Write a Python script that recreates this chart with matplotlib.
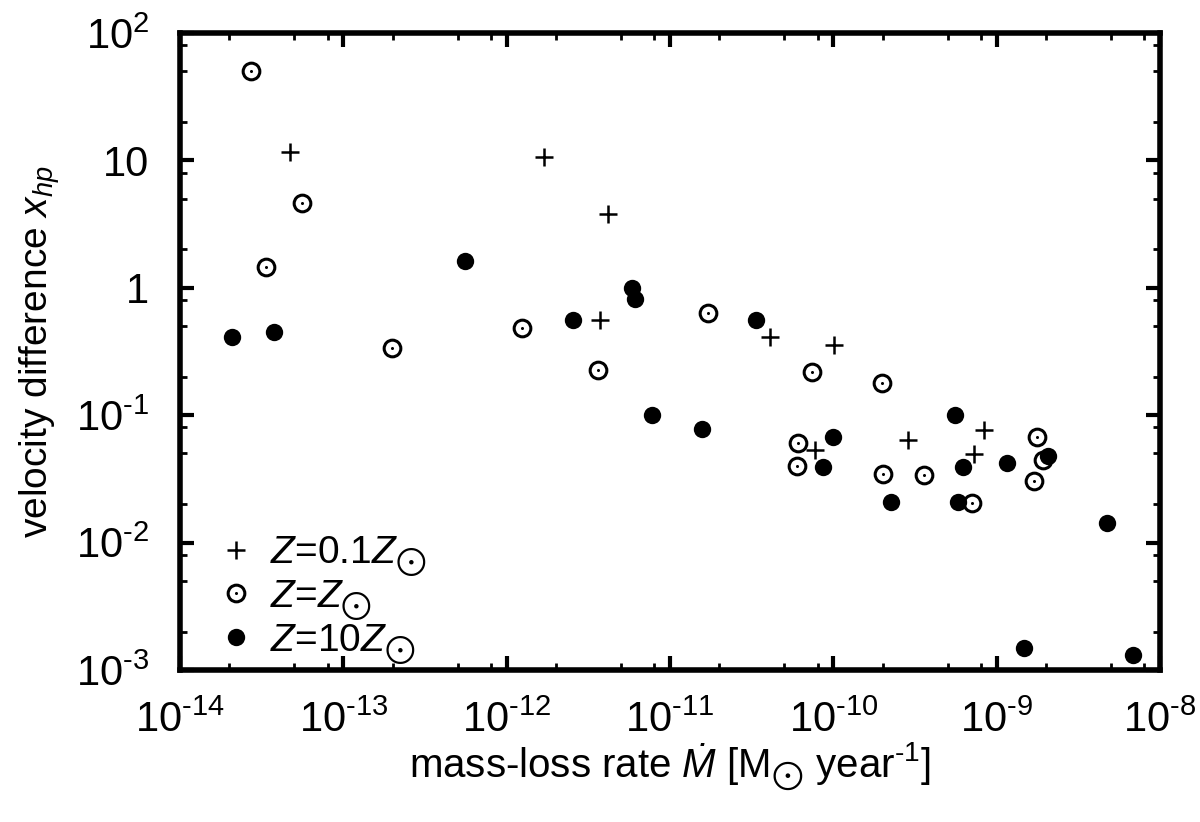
import matplotlib.pyplot as plt
from matplotlib.legend_handler import HandlerTuple
from matplotlib.ticker import LogLocator, NullFormatter

plt.rcParams['font.family'] = ['Liberation Sans', 'DejaVu Sans']
plt.rcParams['mathtext.fontset'] = 'custom'
plt.rcParams['mathtext.rm'] = 'Liberation Sans'
plt.rcParams['mathtext.it'] = 'Liberation Sans:italic'
plt.rcParams['mathtext.fallback'] = 'stixsans'

# Z = 0.1 Zsun
mdot_low = [4.72e-14, 1.69e-12, 4.18e-12, 3.73e-12, 4.1e-11, 1.01e-10,
            7.7e-11, 2.87e-10, 8.37e-10, 7.27e-10]
xhp_low = [11.6, 10.6, 3.8, 0.56, 0.41, 0.356, 0.0533, 0.0638, 0.0766, 0.0496]

# Z = Zsun
mdot_sun = [2.72e-14, 5.58e-14, 3.37e-14, 1.99e-13, 1.24e-12, 3.63e-12,
            1.71e-11, 7.41e-11, 1.99e-10, 6.08e-11, 6.0e-11, 2.0e-10,
            3.6e-10, 7.08e-10, 1.77e-9, 1.93e-9, 1.70e-9]
xhp_sun = [50.4, 4.63, 1.46, 0.336, 0.483, 0.226, 0.634, 0.218, 0.179,
           0.0605, 0.0399, 0.0345, 0.034, 0.0205, 0.0675, 0.0445, 0.0305]

# Z = 10 Zsun
mdot_high = [2.08e-14, 3.77e-14, 5.56e-13, 5.86e-12, 6.1e-12, 2.55e-12,
             3.37e-11, 7.76e-12, 1.57e-11, 9.97e-11, 8.65e-11, 2.26e-10,
             5.57e-10, 6.24e-10, 5.8e-10, 1.16e-9, 2.07e-9, 1.47e-9,
             6.85e-9, 4.75e-9]
xhp_high = [0.411, 0.45, 1.62, 1.0, 0.817, 0.558, 0.558, 0.1, 0.078, 0.0675,
            0.0392, 0.0208, 0.1, 0.039, 0.0208, 0.0422, 0.0479, 0.00149,
            0.00131, 0.01426]

xticks = [1e-14, 1e-13, 1e-12, 1e-11, 1e-10, 1e-9, 1e-8]
xticklabels = [r'10$^{\text{-14}}$', r'10$^{\text{-13}}$', r'10$^{\text{-12}}$',
               r'10$^{\text{-11}}$', r'10$^{\text{-10}}$', r'10$^{\text{-9}}$',
               r'10$^{\text{-8}}$']
yticks = [1e-3, 1e-2, 1e-1, 1, 10, 100]
yticklabels = [r'10$^{\text{-3}}$', r'10$^{\text{-2}}$', r'10$^{\text{-1}}$',
               '1', '10', r'10$^{2}$']

fig = plt.figure(figsize=(12, 8.22), dpi=100)
ax = fig.add_axes([0.15, 0.185, 0.8167, 0.775])

p1, = ax.plot(mdot_low, xhp_low, ls='none', marker='+', ms=13, mew=1.8, color='black')
p2a, = ax.plot(mdot_sun, xhp_sun, ls='none', marker='o', ms=12, mew=2.2,
               mfc='none', mec='black')
p2b, = ax.plot(mdot_sun, xhp_sun, ls='none', marker='o', ms=2.2, mew=0, color='black')
p3, = ax.plot(mdot_high, xhp_high, ls='none', marker='o', ms=12.5, mew=0, color='black')

ax.set_xscale('log')
ax.set_yscale('log')
ax.set_xlim(1e-14, 1e-8)
ax.set_ylim(1e-3, 1e2)

ax.set_xticks(xticks)
ax.set_xticklabels(xticklabels)
ax.set_yticks(yticks)
ax.set_yticklabels(yticklabels)
for a in (ax.xaxis, ax.yaxis):
    a.set_minor_locator(LogLocator(base=10, subs=[2, 5, 8]))
    a.set_minor_formatter(NullFormatter())

for s in ax.spines.values():
    s.set_linewidth(4)
ax.tick_params(which='both', direction='in', top=True, right=True, labelsize=30)
ax.tick_params(which='major', length=10, width=3)
ax.tick_params(which='minor', length=5, width=2)
ax.tick_params(axis='x', which='major', pad=22)
ax.tick_params(axis='y', which='major', pad=22)

ax.set_xlabel('mass-loss rate $\\mathit{\u1e40}$ [M$_{\\bigodot}$ year$^{\\text{-1}}$]',
              fontsize=29, labelpad=0)
ax.set_ylabel(r'velocity difference $x_{hp}$', fontsize=28, labelpad=10)

ax.legend([p1, (p2a, p2b), p3],
          [r'$Z$=0.1$Z_{\bigodot}$', r'$Z$=$Z_{\bigodot}$', r'$Z$=10$Z_{\bigodot}$'],
          handler_map={tuple: HandlerTuple(ndivide=1, pad=0)},
          loc='lower left', frameon=False, fontsize=28, handlelength=1.0,
          handletextpad=0.35, labelspacing=0.0, borderaxespad=0.3,
          bbox_to_anchor=(0.01, -0.036))

fig.savefig('out.png', dpi=100)
